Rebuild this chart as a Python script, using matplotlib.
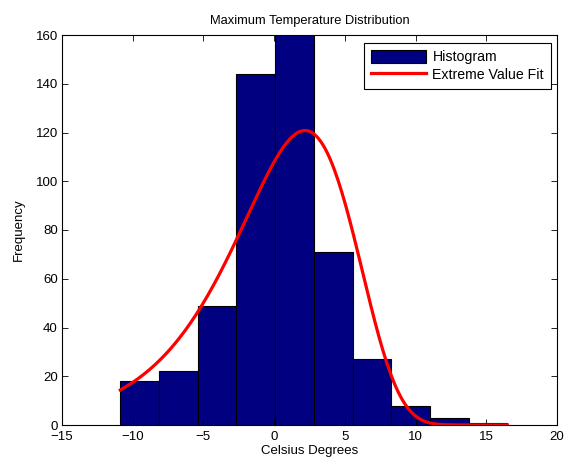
import numpy as np
import matplotlib
matplotlib.use("Agg")
import matplotlib.pyplot as plt

plt.rcParams["font.family"] = ["Liberation Sans", "DejaVu Sans"]

# histogram of daily maximum temperatures (10 bins)
bin_left = -10.88
bin_width = 2.737
counts = [18, 22, 49, 144, 165, 71, 27, 8, 3, 1]

# extreme value (type I, minimum) fit parameters
ev_mu = 2.18
ev_sigma = 4.234
x_min, x_max = -10.88, 16.49

edges = bin_left + bin_width * np.arange(len(counts) + 1)
n_total = sum(counts)

xs = np.linspace(x_min, x_max, 200)
z = np.exp((xs - ev_mu) / ev_sigma)
fit = n_total * bin_width * (1.0 / ev_sigma) * z * np.exp(-z)

fig = plt.figure(figsize=(5.67, 4.68), dpi=100)
ax = fig.add_axes([62 / 567, 43 / 468, 495 / 567, 390 / 468])

bars = ax.bar(edges[:-1], counts, width=bin_width, align="edge",
              color="#000080", edgecolor="black", linewidth=0.8)
line, = ax.plot(xs, fit, color="red", linewidth=2.3)

ax.set_xlim(-15, 20)
ax.set_ylim(0, 160)
ax.set_xticks(np.arange(-15, 21, 5))
ax.set_yticks(np.arange(0, 161, 20))
ax.tick_params(direction="in", top=True, right=True, length=4, width=0.6,
               labelsize=9.5)
ax.tick_params(axis="x", pad=4.5)
ax.tick_params(axis="y", pad=3)
for s in ax.spines.values():
    s.set_linewidth(0.8)

ax.set_title("Maximum Temperature Distribution", fontsize=9.3, pad=8)
ax.set_xlabel("Celsius Degrees", fontsize=9.5, labelpad=1)
ax.set_ylabel("Frequency", fontsize=9.5, labelpad=8)

leg = ax.legend([bars, line], ["Histogram", "Extreme Value Fit"],
                loc="upper right", fontsize=10.2, fancybox=False,
                framealpha=1, edgecolor="black", borderpad=0.5,
                handlelength=3.9, handleheight=1.0, handletextpad=0.45,
                labelspacing=0.25, borderaxespad=0,
                bbox_to_anchor=(489 / 495, 382 / 390))
leg.get_frame().set_linewidth(0.8)

fig.savefig("out.png", dpi=100)
